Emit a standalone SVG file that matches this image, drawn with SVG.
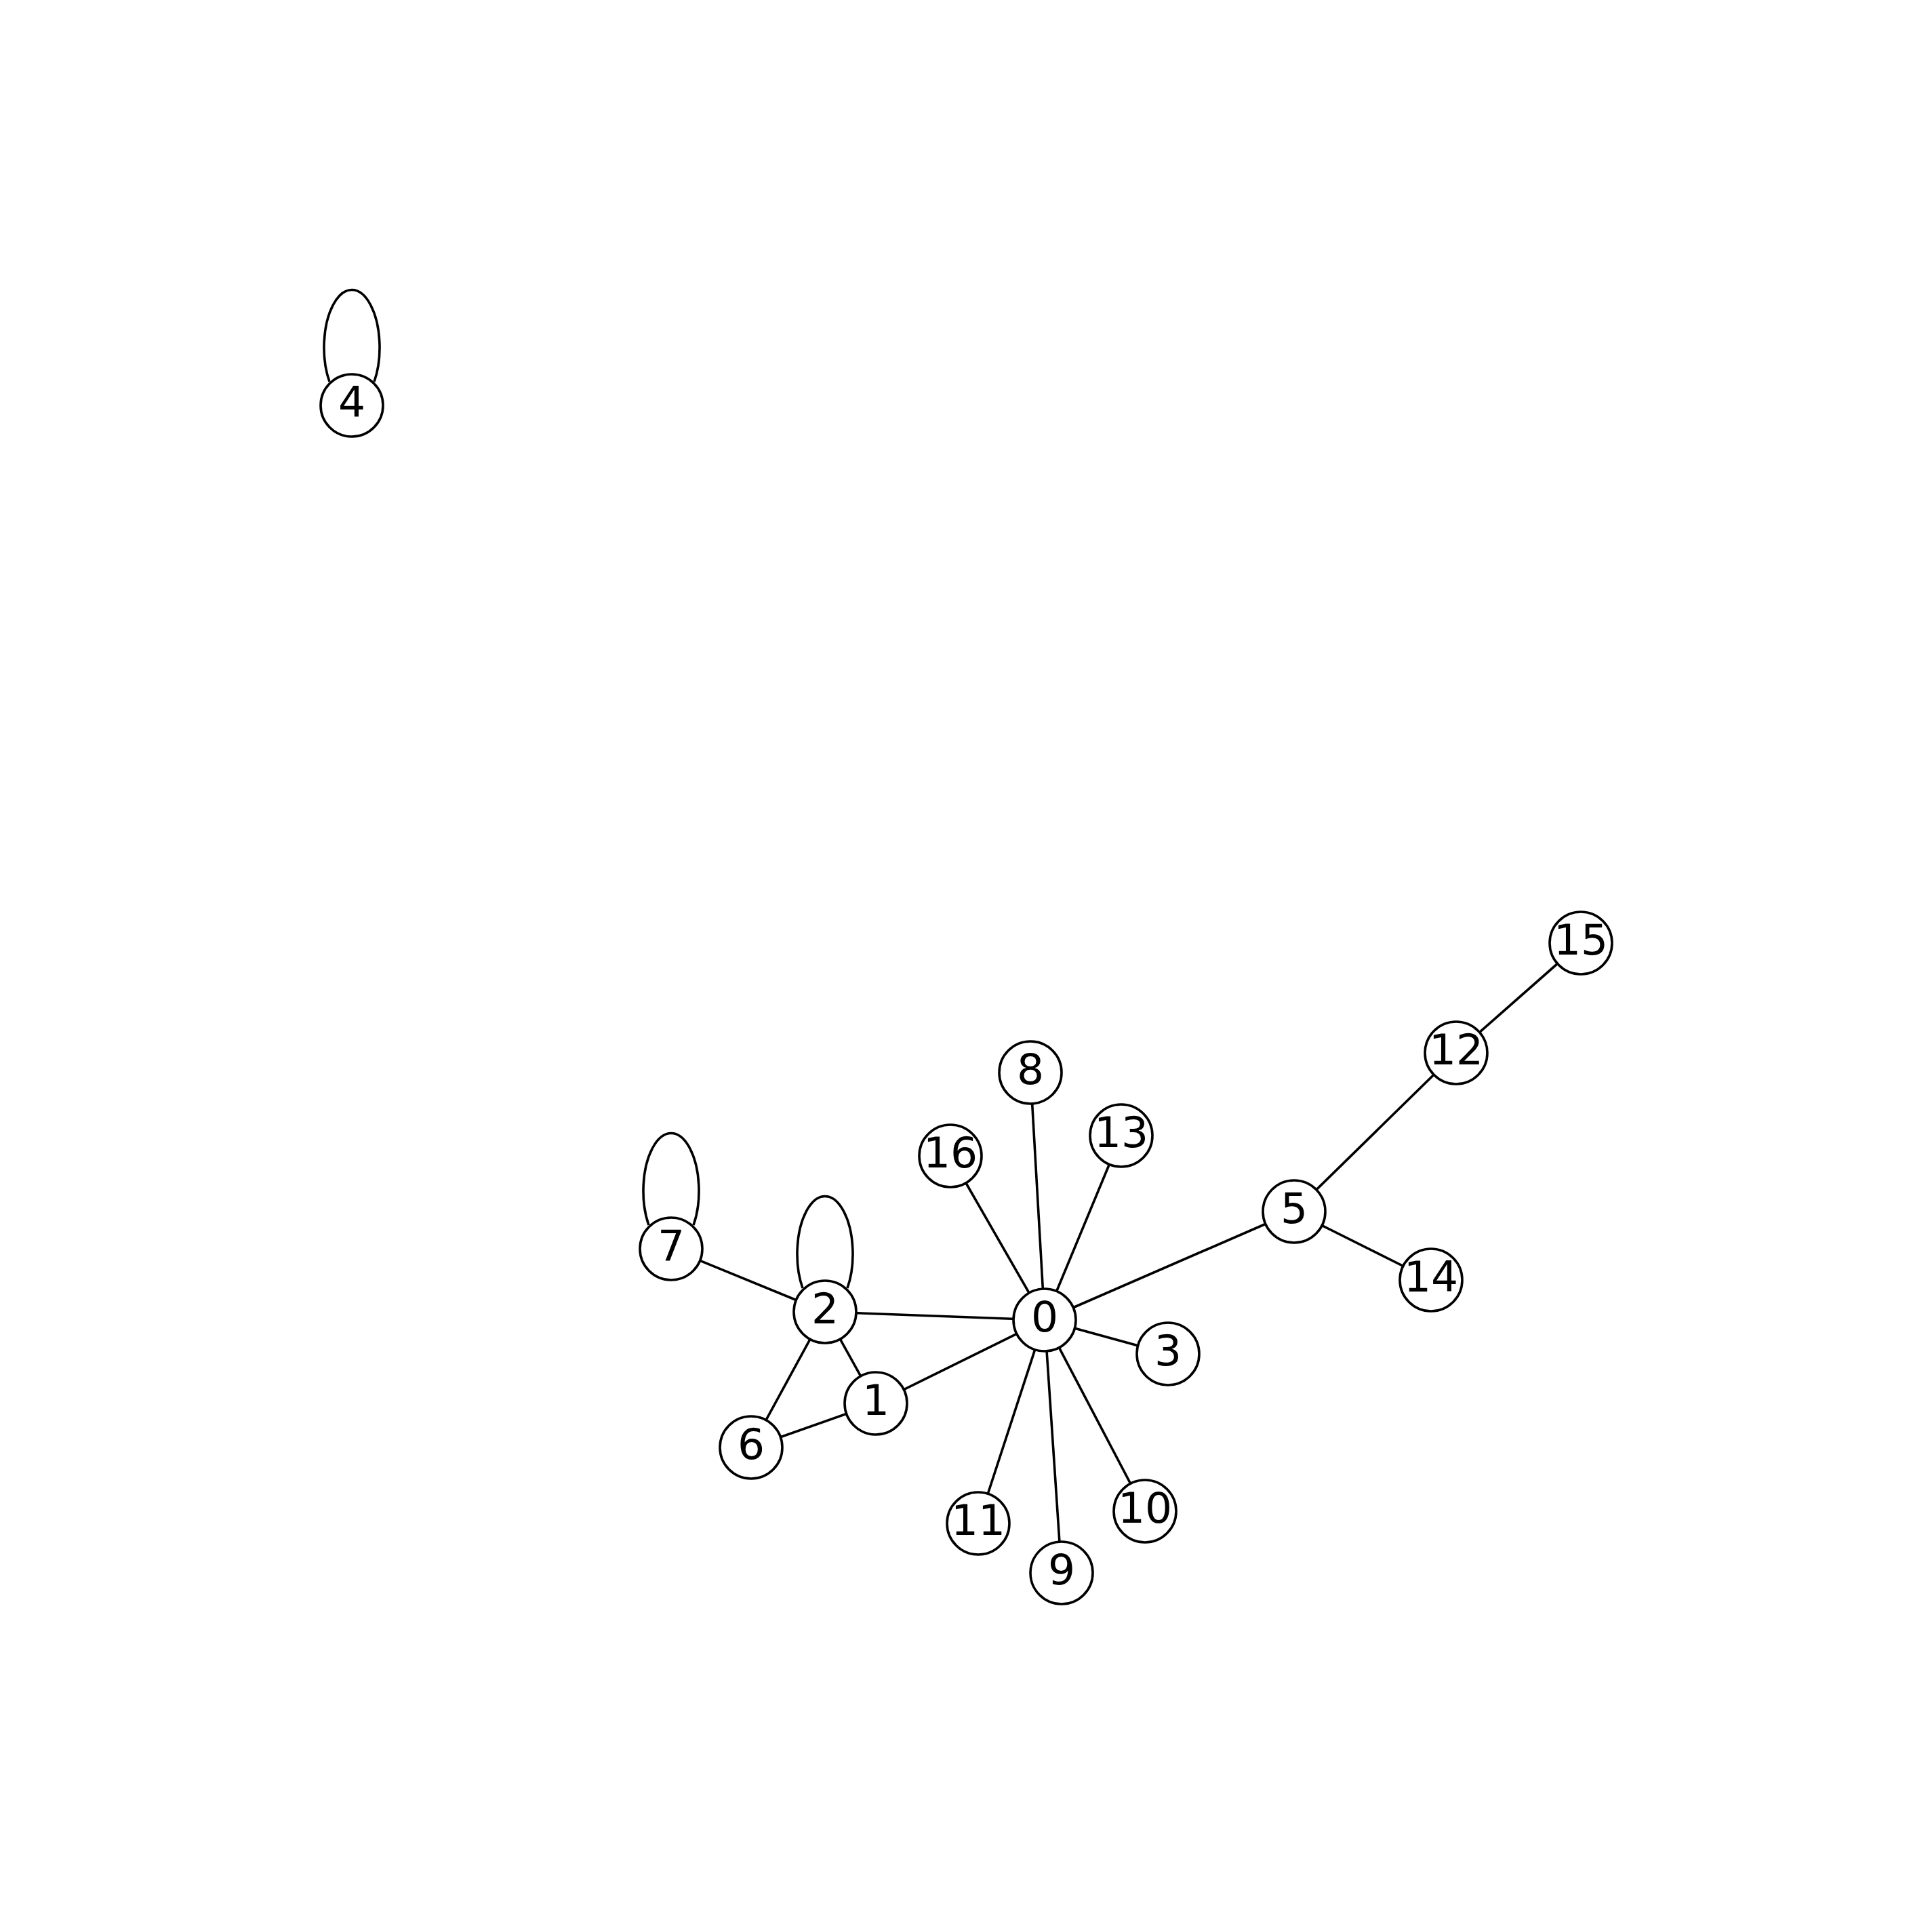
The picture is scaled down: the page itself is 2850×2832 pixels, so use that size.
<svg xmlns="http://www.w3.org/2000/svg" width="2850" height="2832" viewBox="0 0 2850 2832">
<style>
.e{stroke:#000;stroke-width:3.6;fill:none}
.n circle{fill:#fff;stroke:#000;stroke-width:3.6}
.n text{font-family:"DejaVu Sans",sans-serif;font-size:63px;text-anchor:middle;fill:#000}
</style>
<rect width="2850" height="2832" fill="#fff"/>
<g id="edges">
<line class="e" x1="1541" y1="1947" x2="1217" y2="1935"/>
<line class="e" x1="1541" y1="1947" x2="1292" y2="2070"/>
<line class="e" x1="1541" y1="1947" x2="1520" y2="1582"/>
<line class="e" x1="1541" y1="1947" x2="1402" y2="1705"/>
<line class="e" x1="1541" y1="1947" x2="1654" y2="1675"/>
<line class="e" x1="1541" y1="1947" x2="1909" y2="1787"/>
<line class="e" x1="1541" y1="1947" x2="1723" y2="1997"/>
<line class="e" x1="1541" y1="1947" x2="1689" y2="2229"/>
<line class="e" x1="1541" y1="1947" x2="1566" y2="2320"/>
<line class="e" x1="1541" y1="1947" x2="1443" y2="2247"/>
<line class="e" x1="1217" y1="1935" x2="990" y2="1842"/>
<line class="e" x1="1217" y1="1935" x2="1292" y2="2070"/>
<line class="e" x1="1217" y1="1935" x2="1108" y2="2135"/>
<line class="e" x1="1292" y1="2070" x2="1108" y2="2135"/>
<line class="e" x1="1909" y1="1787" x2="2148" y2="1553"/>
<line class="e" x1="2148" y1="1553" x2="2332" y2="1391"/>
<line class="e" x1="1909" y1="1787" x2="2111" y2="1888"/>
<path class="e" d="M486,563 A41 85 0 1 1 552,563"/>
<path class="e" d="M957,1807 A41 85 0 1 1 1023,1807"/>
<path class="e" d="M1184,1900 A41 85 0 1 1 1250,1900"/>
</g>
<g id="node0" class="n"><circle cx="1541" cy="1947" r="46"/><text x="1541" y="1964">0</text></g>
<g id="node1" class="n"><circle cx="1292" cy="2070" r="46"/><text x="1292" y="2087">1</text></g>
<g id="node2" class="n"><circle cx="1217" cy="1935" r="46"/><text x="1217" y="1952">2</text></g>
<g id="node3" class="n"><circle cx="1723" cy="1997" r="46"/><text x="1723" y="2014">3</text></g>
<g id="node4" class="n"><circle cx="519" cy="598" r="46"/><text x="519" y="615">4</text></g>
<g id="node5" class="n"><circle cx="1909" cy="1787" r="46"/><text x="1909" y="1804">5</text></g>
<g id="node6" class="n"><circle cx="1108" cy="2135" r="46"/><text x="1108" y="2152">6</text></g>
<g id="node7" class="n"><circle cx="990" cy="1842" r="46"/><text x="990" y="1859">7</text></g>
<g id="node8" class="n"><circle cx="1520" cy="1582" r="46"/><text x="1520" y="1599">8</text></g>
<g id="node9" class="n"><circle cx="1566" cy="2320" r="46"/><text x="1566" y="2337">9</text></g>
<g id="node10" class="n"><circle cx="1689" cy="2229" r="46"/><text x="1689" y="2246">10</text></g>
<g id="node11" class="n"><circle cx="1443" cy="2247" r="46"/><text x="1443" y="2264">11</text></g>
<g id="node12" class="n"><circle cx="2148" cy="1553" r="46"/><text x="2148" y="1570">12</text></g>
<g id="node13" class="n"><circle cx="1654" cy="1675" r="46"/><text x="1654" y="1692">13</text></g>
<g id="node14" class="n"><circle cx="2111" cy="1888" r="46"/><text x="2111" y="1905">14</text></g>
<g id="node15" class="n"><circle cx="2332" cy="1391" r="46"/><text x="2332" y="1408">15</text></g>
<g id="node16" class="n"><circle cx="1402" cy="1705" r="46"/><text x="1402" y="1722">16</text></g>
</svg>
